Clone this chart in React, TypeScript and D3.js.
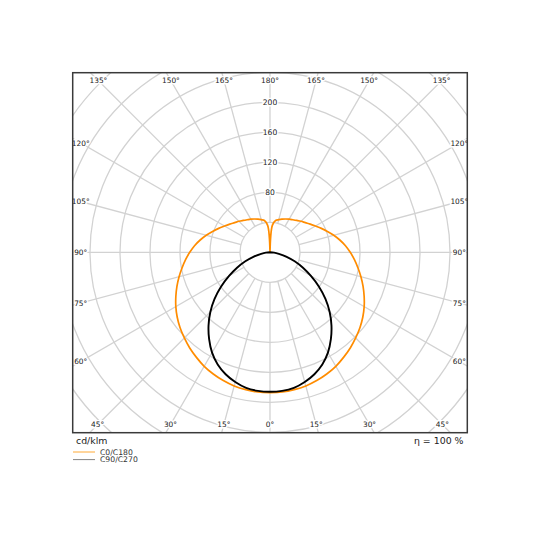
import * as d3 from "d3";

// Gamma angles (degrees from nadir) of the measured points
const gammaC0 = [
  0, 5, 10, 15, 20, 25, 30, 35, 40, 45, 50, 55, 60, 65, 70, 75, 80, 85, 90,
  95, 100, 105, 110, 115, 120, 125, 130, 135, 140, 145, 150, 155, 160, 165,
  170, 175, 180,
];
// C0/C180 plane, cd/klm (same on both halves)
const valuesC0 = [
  187, 187, 186, 184.5, 182, 179, 175.5, 171, 166.5, 161.5, 156.5, 151, 145,
  138.5, 132, 125.5, 119, 113, 107, 101, 94.5, 88, 81.5, 75.5, 70, 65.5, 61.5,
  58.5, 55.5, 53, 51, 49, 47, 45, 43, 36, 0,
];

const gammaC90 = [
  0, 5, 10, 15, 20, 25, 30, 35, 40, 45, 50, 55, 60, 65, 70, 75, 80, 85, 90,
];
// C90/C270 plane, cd/klm
const valuesC90 = [
  186, 185.5, 183.5, 179, 173, 165, 154.5, 141.5, 127.5, 112.5, 96.5, 79.5, 63,
  48.5, 35, 23, 12, 5.5, 0,
];

// grid
const ringValues = [40, 80, 120, 160, 200, 240, 280, 320, 360, 400];
const ringLabels = [80, 120, 160, 200];
const spokeAngles = [0, 15, 30, 45, 60, 75, 90, 105, 120, 135, 150, 165, 180];

const legendItems = [
  { label: "C0/C180", color: "#ffa020" },
  { label: "C90/C270", color: "#777777" },
];

const W = 540;
const H = 540;
const frame = { x0: 72.7, y0: 72.7, x1: 467.3, y1: 432.7 };
const cx = 270;
const cy = 252.3;
const inset = 8;

const rad = (deg: number) => (deg * Math.PI) / 180;

export default function App() {
  const r = d3.scaleLinear().domain([0, 200]).range([0, 150]);

  const radial = d3
    .lineRadial<[number, number]>()
    .angle((d) => d[0])
    .radius((d) => r(d[1]))
    .curve(d3.curveCatmullRom.alpha(0.5));

  // build points going round: left half from top to nadir, then right half back up
  const planePoints = (gammas: number[], vals: number[]) => {
    const pts: [number, number][] = [];
    for (let i = gammas.length - 1; i >= 0; i--) {
      pts.push([Math.PI + rad(gammas[i]), vals[i]]);
    }
    for (let i = 1; i < gammas.length; i++) {
      pts.push([Math.PI - rad(gammas[i]), vals[i]]);
    }
    return pts;
  };

  const pathC0 = radial(planePoints(gammaC0, valuesC0)) || "";
  const pathC90 = radial(planePoints(gammaC90, valuesC90)) || "";

  // spokes on both sides
  const spokes: { g: number; s: number }[] = [];
  spokeAngles.forEach((g) => {
    if (g === 0 || g === 180) spokes.push({ g, s: 1 });
    else {
      spokes.push({ g, s: 1 });
      spokes.push({ g, s: -1 });
    }
  });

  // label position where the spoke meets a rectangle slightly inside the frame
  const labelPos = (g: number, s: number) => {
    const dx = s * Math.sin(rad(g));
    const dy = Math.cos(rad(g));
    const lx0 = frame.x0 + inset;
    const lx1 = frame.x1 - inset;
    const ly0 = frame.y0 + inset;
    const ly1 = frame.y1 - inset;
    let t = Infinity;
    if (dx > 1e-9) t = Math.min(t, (lx1 - cx) / dx);
    if (dx < -1e-9) t = Math.min(t, (lx0 - cx) / dx);
    if (dy > 1e-9) t = Math.min(t, (ly1 - cy) / dy);
    if (dy < -1e-9) t = Math.min(t, (ly0 - cy) / dy);
    return [cx + t * dx, cy + t * dy];
  };

  const rMax = r(ringValues[ringValues.length - 1]);
  const rMin = r(ringValues[0]);
  const font = "'DejaVu Sans', sans-serif";

  return (
    <svg
      width={W}
      height={H}
      style={{ position: "absolute", left: 0, top: 0, background: "#fff" }}
    >
      <defs>
        <clipPath id="plot-clip">
          <rect
            x={frame.x0}
            y={frame.y0}
            width={frame.x1 - frame.x0}
            height={frame.y1 - frame.y0}
          />
        </clipPath>
      </defs>
      <rect width={W} height={H} fill="#fff" />

      <g clipPath="url(#plot-clip)">
        <g transform={`translate(${cx},${cy})`}>
          {ringValues.map((v) => (
            <circle
              key={v}
              r={r(v)}
              fill="none"
              stroke="#d2d2d2"
              strokeWidth={1.3}
            />
          ))}
          {spokes.map(({ g, s }) => (
            <line
              key={`${g}_${s}`}
              x1={s * rMin * Math.sin(rad(g))}
              y1={rMin * Math.cos(rad(g))}
              x2={s * rMax * Math.sin(rad(g))}
              y2={rMax * Math.cos(rad(g))}
              stroke="#d2d2d2"
              strokeWidth={1.3}
            />
          ))}
          {ringLabels.map((v) => (
            <text
              key={v}
              x={0}
              y={-r(v)}
              dy="0.35em"
              textAnchor="middle"
              fontFamily={font}
              fontSize={7.6}
              fill="#222"
              stroke="#fff"
              strokeWidth={3}
              paintOrder="stroke"
            >
              {v}
            </text>
          ))}
          <path
            d={pathC0}
            fill="none"
            stroke="#ff8c00"
            strokeWidth={1.7}
            strokeLinejoin="round"
          />
          <path
            d={pathC90}
            fill="none"
            stroke="#000"
            strokeWidth={1.9}
            strokeLinejoin="round"
          />
        </g>
        {spokes.map(({ g, s }) => {
          const [x, y] = labelPos(g, s);
          return (
            <text
              key={`l${g}_${s}`}
              x={x}
              y={y}
              dy="0.35em"
              textAnchor="middle"
              fontFamily={font}
              fontSize={7.4}
              fill="#222"
              stroke="#fff"
              strokeWidth={3}
              paintOrder="stroke"
            >
              {`${g}°`}
            </text>
          );
        })}
      </g>

      <rect
        x={frame.x0}
        y={frame.y0}
        width={frame.x1 - frame.x0}
        height={frame.y1 - frame.y0}
        fill="none"
        stroke="#3a3a3a"
        strokeWidth={1.5}
      />

      <text x={76} y={444} fontFamily={font} fontSize={9.4} fill="#222">
        cd/klm
      </text>
      <text
        x={463.5}
        y={444}
        textAnchor="end"
        fontFamily={font}
        fontSize={9.4}
        fill="#222"
      >
        η = 100 %
      </text>

      {legendItems.map((item, i) => (
        <g key={item.label} transform={`translate(73,${452 + i * 7.6})`}>
          <line
            x1={0}
            x2={22}
            y1={0}
            y2={0}
            stroke={item.color}
            strokeWidth={0.9}
          />
          <text
            x={27}
            y={0}
            dy="0.35em"
            fontFamily={font}
            fontSize={7.7}
            fill="#333"
          >
            {item.label}
          </text>
        </g>
      ))}
    </svg>
  );
}
